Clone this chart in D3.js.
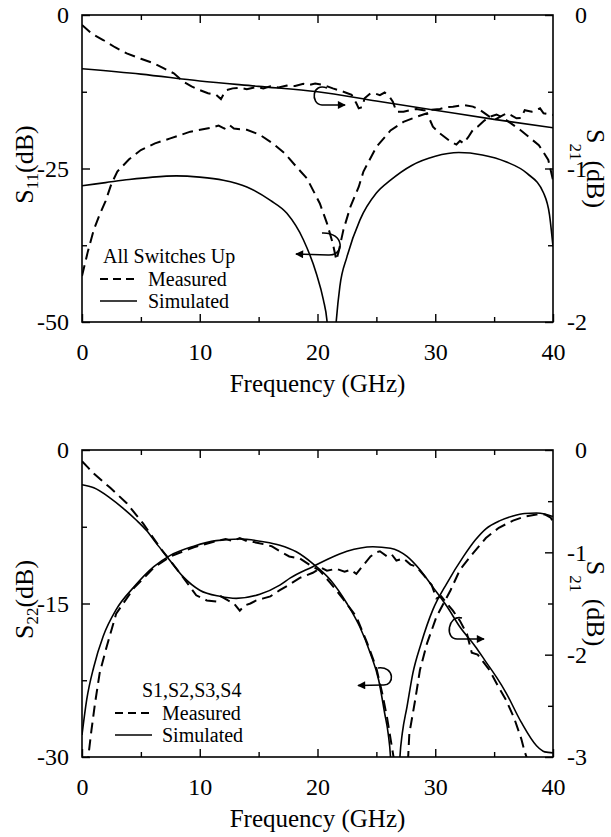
<!DOCTYPE html>
<html lang="en">
<head>
<meta charset="UTF-8">
<title>S-parameters, all switches</title>
<style>
    body {
        margin: 0;
        background: #fff;
    }
    svg {
        display: block;
        font-family: "Liberation Serif", "Times New Roman", serif;
    }
    .frame {
        fill: none;
        stroke: #000;
        stroke-width: 1.6px;
    }
    .axis path {
        display: none;
    }
    .axis line {
        stroke: #000;
        stroke-width: 1.4px;
    }
    .axis text {
        font-family: "Liberation Serif", serif;
        font-size: 24px;
        fill: #000;
    }
    .sim {
        fill: none;
        stroke: #000;
        stroke-width: 1.6px;
    }
    .meas {
        fill: none;
        stroke: #000;
        stroke-width: 2px;
        stroke-dasharray: 11, 6;
    }
    .note {
        fill: none;
        stroke: #000;
        stroke-width: 1.6px;
    }
    .legend-text {
        font-size: 20px;
    }
    .xtitle {
        font-size: 25px;
    }
    .ytitle {
        font-size: 26px;
    }
</style>
</head>
<body>
<script src="https://cdn.jsdelivr.net/npm/d3@7"></script>
<script>
    // ---- data (frequency in GHz, value in dB) ----
    var freqMajor = [0, 10, 20, 30, 40];
    var freqMinor = [5, 15, 25, 35];
    var topLeftTicks = [0, -25, -50];
    var topLeftMinor = [-12.5, -37.5];
    var topRightTicks = [0, -1, -2];
    var topRightMinor = [-0.5, -1.5];
    var botLeftTicks = [0, -15, -30];
    var botLeftMinor = [-7.5, -22.5];
    var botRightTicks = [0, -1, -2, -3];
    var botRightMinor = [-0.5, -1.5, -2.5];

    // top panel: all switches up
    var topS21Sim = [[0,-0.35],[5,-0.385],[10,-0.43],[15,-0.465],[20,-0.50],[25,-0.56],[30,-0.62],[35,-0.68],[40,-0.735]];
    var topS21Meas = [[0,-0.065],[0.8,-0.12],[1.8,-0.163],[2.8,-0.21],[3.8,-0.25],[5,-0.285],[6.1,-0.315],[7,-0.35],
        [7.8,-0.38],[8.6,-0.434],[9.3,-0.465],[10,-0.489],[10.7,-0.51],[11.4,-0.521],[11.8,-0.548],[12,-0.52],
        [12.3,-0.489],[12.8,-0.478],[13.4,-0.474],[14,-0.484],[14.8,-0.47],[15.4,-0.478],[16,-0.465],[16.7,-0.472],
        [17.4,-0.46],[18.1,-0.463],[18.8,-0.448],[19.3,-0.456],[19.8,-0.447],[20.5,-0.456],[21.3,-0.478],[22.2,-0.5],
        [22.9,-0.52],[23.3,-0.575],[23.5,-0.608],[23.8,-0.6],[24,-0.543],[24.5,-0.51],[24.9,-0.512],[25.3,-0.522],
        [25.7,-0.505],[26.1,-0.53],[26.4,-0.565],[26.7,-0.63],[27.3,-0.63],[27.9,-0.619],[28.4,-0.612],[29,-0.621],
        [29.6,-0.617],[30.4,-0.612],[31,-0.6],[31.5,-0.597],[32.4,-0.586],[33.2,-0.597],[33.8,-0.619],[34.6,-0.662],
        [35.1,-0.68],[35.8,-0.651],[36.1,-0.64],[36.5,-0.655],[36.9,-0.673],[37.3,-0.67],[37.6,-0.62],[38.2,-0.63],
        [38.9,-0.608],[39.2,-0.64],[39.6,-0.645],[40,-0.651]];
    var topS11Sim = [[0,-27.8],[2,-27.3],[4,-26.8],[6,-26.4],[8,-26.2],[10,-26.4],[12,-26.9],[14,-28.0],[16,-30.2],
        [17.4,-32.3],[18.8,-36.6],[19.9,-42.1],[20.5,-46.4],[20.8,-49.7],[21.2,-62],[21.6,-49.7],[21.9,-44.2],
        [22.5,-39.4],[23.6,-33.4],[25,-29.0],[26.2,-26.9],[28,-24.5],[30,-23.0],[32,-22.4],[34,-22.8],[36,-23.9],
        [37.8,-25.8],[39.2,-29.0],[39.7,-32.5],[40,-37.7]];
    var topS11Meas = [[0,-42.5],[0.5,-38.5],[1,-35],[1.5,-32.5],[2,-30.3],[2.5,-27.5],[3,-25.5],[4,-23.5],[5,-22],
        [6.2,-20.9],[7.5,-20.1],[9.2,-19.0],[10.9,-18.4],[11.6,-18.0],[12.1,-18.5],[12.5,-17.9],[12.9,-18.5],
        [14,-18.7],[15.1,-19.5],[16.2,-20.9],[17.2,-22.5],[18.2,-24.7],[19.1,-26.6],[20.2,-30.7],[20.8,-33.9],
        [21.3,-37.2],[21.6,-39.9],[21.8,-38.5],[22.2,-35.0],[22.8,-31.2],[23.5,-28.0],[23.9,-25.5],[25,-21.5],
        [26.2,-18.8],[27.3,-17.4],[28.4,-16.6],[29.3,-16.0],[29.8,-18.2],[30.4,-19.3],[31.3,-20.6],[31.8,-21.1],
        [32.1,-20.5],[32.4,-20.9],[32.8,-19.9],[33.2,-18.7],[33.6,-18.2],[34.1,-17.3],[34.6,-16.6],[35.2,-16.2],
        [35.8,-16.8],[37.2,-18.7],[38.8,-21.2],[39.6,-23.6],[40,-26.9]];

    // bottom panel: S1,S2,S3,S4
    var botS21Sim = [[0,-0.34],[1,-0.37],[2.4,-0.47],[3.5,-0.57],[4.6,-0.684],[5.5,-0.79],[6.3,-0.91],[7.2,-1.04],
        [8.6,-1.24],[10,-1.37],[11.7,-1.43],[13.1,-1.45],[15.1,-1.41],[16.8,-1.32],[17.7,-1.25],[19.6,-1.14],
        [21,-1.06],[22.5,-0.99],[24.7,-0.945],[26.2,-0.96],[27.6,-1.04],[28.7,-1.17],[29.8,-1.34],[31,-1.53],
        [32.1,-1.73],[33.4,-1.92],[34.3,-2.07],[35.2,-2.22],[36,-2.37],[37.3,-2.66],[38.6,-2.89],[39.3,-2.95],[40,-2.96]];
    var botS21Meas = [[0,-0.11],[0.5,-0.17],[1,-0.23],[2.4,-0.37],[3.8,-0.52],[5.2,-0.72],[6.6,-0.95],[8.3,-1.2],
        [9.7,-1.42],[10.6,-1.47],[11.4,-1.48],[11.8,-1.43],[12.4,-1.47],[12.9,-1.5],[13.4,-1.57],[13.8,-1.52],
        [14.3,-1.5],[14.8,-1.47],[15.4,-1.45],[16,-1.43],[16.8,-1.37],[17.4,-1.33],[18.5,-1.25],[19.6,-1.2],
        [20.3,-1.15],[20.8,-1.18],[21.6,-1.16],[22.3,-1.19],[22.8,-1.17],[23.3,-1.21],[24,-1.11],[24.5,-1.04],
        [25,-1.0],[25.3,-0.99],[25.9,-1.04],[26.3,-1.02],[26.7,-1.08],[27.3,-1.06],[27.9,-1.12],[28.4,-1.14],
        [29,-1.22],[29.7,-1.32],[30.1,-1.45],[30.5,-1.43],[31,-1.5],[31.5,-1.57],[32.1,-1.67],[32.7,-1.8],
        [33.1,-1.98],[33.6,-2.0],[34.6,-2.15],[35.3,-2.3],[36,-2.44],[36.7,-2.62],[37.3,-2.82],[37.6,-2.95],[37.9,-3.05]];
    var botS22Sim = [[0,-27.85],[0.4,-24.4],[1,-21.2],[1.8,-18.2],[2.9,-15.6],[4.4,-13.4],[6.1,-11.4],[7.5,-10.3],
        [9.5,-9.4],[11.4,-8.86],[13.4,-8.7],[15.4,-8.96],[16.8,-9.3],[18.2,-9.95],[19.6,-11.1],[21.1,-12.7],
        [22.5,-15],[23.6,-17.3],[24.5,-19.9],[25.2,-22.5],[25.7,-25.7],[26,-27.7],[26.2,-30],[26.6,-45],[27,-30],
        [27.2,-27.7],[27.6,-25.1],[28.1,-21.8],[28.8,-18.9],[29.8,-15.6],[31,-13.0],[32.4,-10.4],[33.4,-8.8],
        [34.3,-7.7],[35.5,-6.9],[36.6,-6.45],[37.6,-6.2],[38.6,-6.15],[39.3,-6.25],[40,-6.5]];
    var botS22Meas = [[0.45,-31],[0.5,-30.3],[0.8,-27.4],[1.1,-24.8],[1.5,-21.8],[2.1,-19.2],[2.9,-16.0],[4.4,-13.5],
        [6.1,-11.5],[7.5,-10.4],[9.5,-9.5],[11.4,-8.9],[12.2,-8.7],[12.8,-8.9],[13.4,-8.6],[14,-8.9],[14.6,-9.0],
        [15.4,-9.2],[16.1,-9.4],[16.8,-9.9],[17.6,-10.4],[18.5,-10.6],[19.3,-11.2],[20.2,-11.8],[21.1,-13.0],
        [22.2,-14.6],[23.3,-16.3],[24.2,-18.8],[25,-21.3],[25.5,-23.8],[25.9,-26.1],[26.4,-29.6],[26.6,-31],
        [27.6,-31],[27.7,-30],[27.8,-27.7],[28.3,-24.4],[28.7,-21.5],[29.3,-18.9],[30.1,-16.3],[31.3,-13.7],
        [32.1,-11.7],[33.2,-10.1],[34.3,-8.6],[35.4,-7.6],[36.6,-6.9],[37.6,-6.5],[38.6,-6.3],[39.3,-6.3],
        [39.8,-6.6],[40,-7.0]];

    // ---- layout ----
    var width = 611, height = 837;
    var plotH = 307;

    var svg = d3.select("body").append("svg")
        .attr("width", width)
        .attr("height", height);

    svg.append("defs").append("marker")
        .attr("id", "arrow")
        .attr("viewBox", "0 -5 10 10")
        .attr("refX", 9)
        .attr("refY", 0)
        .attr("markerUnits", "userSpaceOnUse")
        .attr("markerWidth", 9)
        .attr("markerHeight", 8)
        .attr("orient", "auto")
        .append("path")
        .attr("d", "M0,-5L10,0L0,5Z")
        .attr("fill", "#000");

    var x = d3.scaleLinear().domain([0, 40]).range([82, 553]);

    function plain(d) { return String(d); }

    function drawPanel(p) {
        var top = p.top, bottom = p.top + plotH;
        var yL = d3.scaleLinear().domain([p.leftMin, 0]).range([bottom, top]);
        var yR = d3.scaleLinear().domain([p.rightMin, 0]).range([bottom, top]);
        var g = svg.append("g");

        g.append("clipPath").attr("id", "clip" + p.id)
            .append("rect")
            .attr("x", x(0)).attr("y", top)
            .attr("width", x(40) - x(0)).attr("height", plotH);

        // ticks, pointing inward on all four sides
        g.append("g").attr("class", "axis").attr("transform", "translate(0," + bottom + ")")
            .call(d3.axisBottom(x).tickValues(freqMajor).tickSize(-8).tickSizeOuter(0).tickPadding(21).tickFormat(plain));
        g.append("g").attr("class", "axis").attr("transform", "translate(0," + bottom + ")")
            .call(d3.axisBottom(x).tickValues(freqMinor).tickSize(-5).tickSizeOuter(0).tickFormat(""));
        g.append("g").attr("class", "axis").attr("transform", "translate(0," + top + ")")
            .call(d3.axisTop(x).tickValues(freqMajor.slice(1, -1)).tickSize(-8).tickSizeOuter(0).tickFormat(""));
        g.append("g").attr("class", "axis").attr("transform", "translate(0," + top + ")")
            .call(d3.axisTop(x).tickValues(freqMinor).tickSize(-5).tickSizeOuter(0).tickFormat(""));

        g.append("g").attr("class", "axis").attr("transform", "translate(" + x(0) + ",0)")
            .call(d3.axisLeft(yL).tickValues(p.leftTicks).tickSize(-8).tickSizeOuter(0).tickPadding(13).tickFormat(plain));
        g.append("g").attr("class", "axis").attr("transform", "translate(" + x(0) + ",0)")
            .call(d3.axisLeft(yL).tickValues(p.leftMinor).tickSize(-5).tickSizeOuter(0).tickFormat(""));
        var right = g.append("g").attr("class", "axis").attr("transform", "translate(" + x(40) + ",0)")
            .call(d3.axisRight(yR).tickValues(p.rightTicks).tickSize(-8).tickSizeOuter(0).tickPadding(14).tickFormat(plain));
        // digits line up, the minus sign hangs to the left
        right.selectAll(".tick text").attr("x", function(d) { return d < 0 ? 14 : 22; });
        g.append("g").attr("class", "axis").attr("transform", "translate(" + x(40) + ",0)")
            .call(d3.axisRight(yR).tickValues(p.rightMinor).tickSize(-5).tickSizeOuter(0).tickFormat(""));

        g.append("rect").attr("class", "frame")
            .attr("x", x(0)).attr("y", top)
            .attr("width", x(40) - x(0)).attr("height", plotH);

        // curves
        var lineL = d3.line().x(function(d) { return x(d[0]); }).y(function(d) { return yL(d[1]); });
        var lineR = d3.line().x(function(d) { return x(d[0]); }).y(function(d) { return yR(d[1]); });
        var curves = g.append("g").attr("clip-path", "url(#clip" + p.id + ")");

        curves.append("path").attr("class", "sim").attr("d", lineR.curve(d3.curveMonotoneX)(p.rightSim));
        curves.append("path").attr("class", "sim").attr("d", lineL.curve(d3.curveMonotoneX)(p.leftSim));
        curves.append("path").attr("class", "meas").attr("d", lineR.curve(d3.curveLinear)(p.rightMeas));
        curves.append("path").attr("class", "meas").attr("d", lineL.curve(d3.curveLinear)(p.leftMeas));

        // curly arrows telling which axis a curve belongs to
        p.arrows.forEach(function(a) {
            var sc = a.axis === "left" ? yL : yR;
            var pt = a.pts.map(function(d) { return [x(d[0]), sc(d[1])]; });
            g.append("path").attr("class", "note")
                .attr("marker-end", "url(#arrow)")
                .attr("d", "M" + pt[0] + "C" + pt[1] + " " + pt[2] + " " + pt[3] + "L" + pt[4]);
        });

        // x title
        g.append("text").attr("class", "xtitle")
            .attr("x", (x(0) + x(40)) / 2)
            .attr("y", bottom + 70)
            .attr("text-anchor", "middle")
            .text("Frequency (GHz)");

        // y titles with subscripts
        var yc = top + plotH / 2;
        var tl = g.append("text").attr("class", "ytitle")
            .attr("transform", "translate(33," + (yc - 4) + ") rotate(-90)")
            .attr("text-anchor", "middle");
        tl.append("tspan").text("S");
        tl.append("tspan").attr("font-size", 17).attr("dy", 5).text(p.leftSub);
        tl.append("tspan").attr("dy", -5).text("(dB)");

        var tr = g.append("text").attr("class", "ytitle")
            .attr("transform", "translate(587," + yc + ") rotate(90)")
            .attr("text-anchor", "middle");
        tr.append("tspan").text("S");
        tr.append("tspan").attr("font-size", 17).attr("dy", 17).text("21");
        tr.append("tspan").attr("dy", -17).text(p.rightGap + "(dB)");

        // legend
        var lg = g.append("g").attr("class", "legend-text");
        lg.append("text").attr("x", p.legend.headX).attr("y", p.legend.y).attr("dy", "0.35em").text(p.legend.head);
        lg.append("line").attr("class", "sim").style("stroke-dasharray", "8,5").style("stroke-width", "2px")
            .attr("x1", p.legend.lineX).attr("x2", p.legend.lineX + 37)
            .attr("y1", p.legend.y + 23).attr("y2", p.legend.y + 23);
        lg.append("text").attr("x", p.legend.textX).attr("y", p.legend.y + 23).attr("dy", "0.35em").text("Measured");
        lg.append("line").attr("class", "sim")
            .attr("x1", p.legend.lineX).attr("x2", p.legend.lineX + 37)
            .attr("y1", p.legend.y + 45).attr("y2", p.legend.y + 45);
        lg.append("text").attr("x", p.legend.textX).attr("y", p.legend.y + 45).attr("dy", "0.35em").text("Simulated");
    }

    drawPanel({
        id: "top", top: 15,
        leftMin: -50, leftTicks: topLeftTicks, leftMinor: topLeftMinor,
        rightMin: -2, rightTicks: topRightTicks, rightMinor: topRightMinor,
        leftSim: topS11Sim, leftMeas: topS11Meas,
        rightSim: topS21Sim, rightMeas: topS21Meas,
        leftSub: "11", rightGap: "",
        arrows: [
            {axis: "right", pts: [[20.81,-0.476],[19.53,-0.437],[19.36,-0.58],[20.38,-0.586],[22.34,-0.586]]},
            {axis: "left", pts: [[20.38,-35.5],[22.34,-35.34],[22.34,-39.25],[20.89,-39.09],[18.17,-38.93]]}
        ],
        legend: {head: "All Switches Up", headX: 103, y: 256, lineX: 100, textX: 148}
    });

    drawPanel({
        id: "bot", top: 450,
        leftMin: -30, leftTicks: botLeftTicks, leftMinor: botLeftMinor,
        rightMin: -3, rightTicks: botRightTicks, rightMinor: botRightMinor,
        leftSim: botS22Sim, leftMeas: botS22Meas,
        rightSim: botS21Sim, rightMeas: botS21Meas,
        leftSub: "22", rightGap: " ",
        arrows: [
            {axis: "left", pts: [[25.14,-21.3],[26.58,-21.1],[26.58,-23.06],[25.56,-22.96],[23.44,-23.01]]},
            {axis: "right", pts: [[32.27,-1.642],[31.08,-1.603],[30.74,-1.857],[31.93,-1.847],[34.14,-1.847]]}
        ],
        legend: {head: "S1,S2,S3,S4", headX: 142, y: 690, lineX: 115, textX: 162}
    });
</script>
</body>
</html>
